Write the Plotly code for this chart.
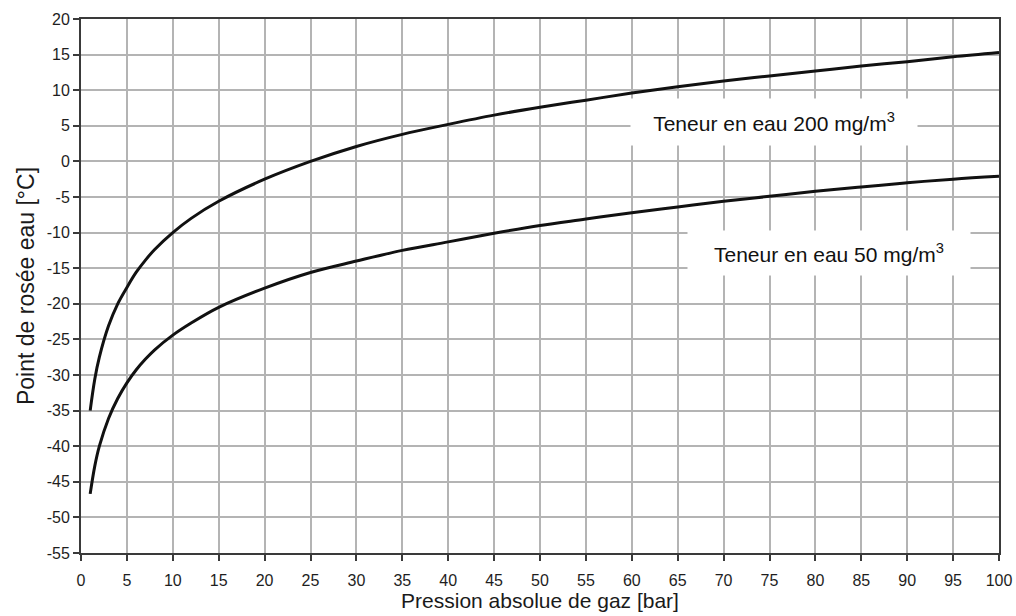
import plotly.graph_objects as go

pressure = [1, 1.5, 2, 3, 4, 5, 6, 7, 8, 10, 12, 15, 20, 25, 30, 35, 40, 45, 50,
            55, 60, 65, 70, 75, 80, 85, 90, 95, 100]
dew_200 = [-35.0, -30.6, -27.5, -23.1, -20.0, -17.7, -15.6, -13.9, -12.4, -10.0,
           -8.0, -5.6, -2.5, 0.0, 2.1, 3.8, 5.2, 6.5, 7.6, 8.6, 9.6, 10.5, 11.3,
           12.0, 12.7, 13.4, 14.0, 14.7, 15.3]
dew_50 = [-46.7, -42.8, -40.0, -36.1, -33.3, -31.1, -29.3, -27.8, -26.5, -24.4,
          -22.7, -20.5, -17.8, -15.6, -14.0, -12.5, -11.3, -10.1, -9.0, -8.1,
          -7.2, -6.4, -5.6, -4.9, -4.2, -3.6, -3.0, -2.5, -2.1]

x_ticks = list(range(0, 101, 5))
y_ticks = list(range(-55, 21, 5))
y_tick_text = [str(v) for v in y_ticks]  # plain hyphen-minus as in the reference

label_200 = "Teneur en eau 200 mg/m<sup>3</sup>"
label_50 = "Teneur en eau 50 mg/m<sup>3</sup>"

FONT = "Arial, 'Liberation Sans', sans-serif"

fig = go.Figure()
for ys in (dew_200, dew_50):
    fig.add_trace(go.Scatter(x=pressure, y=ys, mode="lines",
                             line=dict(color="#111111", width=3, shape="spline"),
                             showlegend=False, hoverinfo="skip"))

fig.add_annotation(x=75.5, y=5.5, xref="x", yref="y", text=label_200,
                   showarrow=False, bgcolor="white", width=284, height=44,
                   font=dict(family=FONT, size=21, color="#111111"))
fig.add_annotation(x=81.5, y=-12.9, xref="x", yref="y", text=label_50,
                   showarrow=False, bgcolor="white", width=280, height=42,
                   font=dict(family=FONT, size=21, color="#111111"))

axis_common = dict(showline=True, linecolor="#3a3a3a", linewidth=2, mirror=True,
                   showgrid=True, gridcolor="#b4b4b4", gridwidth=2,
                   ticks="outside", ticklen=6, tickwidth=2, tickcolor="#3a3a3a",
                   tickfont=dict(family=FONT, size=16, color="#1e1e1e"),
                   zeroline=False, automargin=False)

fig.update_xaxes(range=[0, 100], tickvals=x_ticks, ticklabelstandoff=6,
                 title=dict(text="Pression absolue de gaz [bar]", standoff=5,
                            font=dict(family=FONT, size=21, color="#1a1a1a")),
                 **axis_common)
fig.update_yaxes(range=[-55, 20], tickvals=y_ticks, ticktext=y_tick_text,
                 title=dict(text="Point de rosée eau [°C]", standoff=6,
                            font=dict(family=FONT, size=23, color="#1a1a1a")),
                 **axis_common)

fig.update_layout(width=1016, height=616,
                  margin=dict(l=81, r=17, t=19, b=63),
                  paper_bgcolor="white", plot_bgcolor="white",
                  font=dict(family=FONT))

fig.write_html("out.html",
               config={"displayModeBar": False},
               post_script="document.body.style.margin='0';"
                           "document.body.style.overflow='hidden';")
